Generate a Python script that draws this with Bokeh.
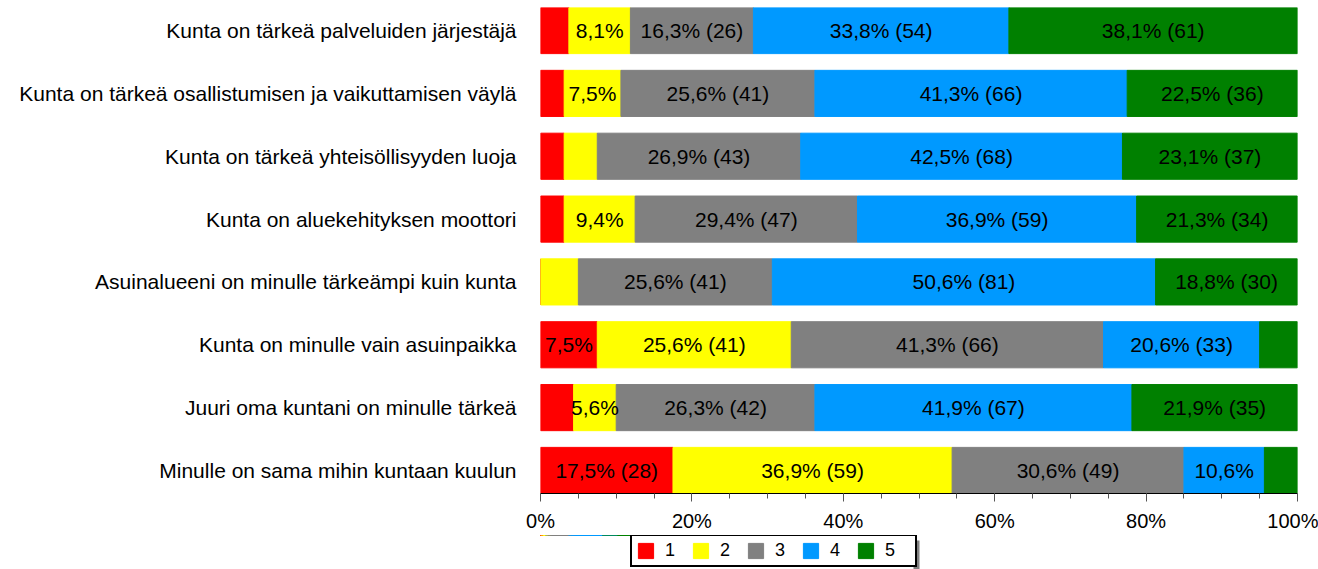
from bokeh.plotting import figure
from bokeh.models import ColumnDataSource, Range1d, FixedTicker, Legend, LegendItem, BoxAnnotation
from bokeh.layouts import column
from bokeh.embed import file_html
from bokeh.resources import INLINE
from bokeh.core.properties import value

categories = [
    "Kunta on tärkeä palveluiden järjestäjä",
    "Kunta on tärkeä osallistumisen ja vaikuttamisen väylä",
    "Kunta on tärkeä yhteisöllisyyden luoja",
    "Kunta on aluekehityksen moottori",
    "Asuinalueeni on minulle tärkeämpi kuin kunta",
    "Kunta on minulle vain asuinpaikka",
    "Juuri oma kuntani on minulle tärkeä",
    "Minulle on sama mihin kuntaan kuulun",
]
levels = ["1", "2", "3", "4", "5"]
n_resp = [160, 160, 160, 160, 160, 160, 160, 160]
c1 = [6, 5, 5, 5, 0, 12, 7, 28]
c2 = [13, 12, 7, 15, 8, 41, 9, 59]
c3 = [26, 41, 43, 47, 41, 66, 42, 49]
c4 = [54, 66, 68, 59, 81, 33, 67, 17]
c5 = [61, 36, 37, 34, 30, 8, 35, 7]
colors = ["#FF0000", "#FFFF00", "#808080", "#0099FF", "#008000"]
tick_values = [0, 20, 40, 60, 80, 100]
tick_labels = ["0%", "20%", "40%", "60%", "80%", "100%"]

FONT = "Liberation Sans"
counts = [c1, c2, c3, c4, c5]
ncat = len(categories)
ys = [ncat - 1 - i for i in range(ncat)]
stackers = ["p1", "p2", "p3", "p4", "p5"]


def r1(v):
    return int(v * 10 + 0.5) / 10.0


def fmt(v):
    return ("%.1f" % v).replace(".", ",")


data = {"y": ys}
for k, cs in enumerate(counts):
    data[stackers[k]] = [cs[i] / n_resp[i] * 100.0 for i in range(ncat)]
src = ColumnDataSource(data)

# segment labels
lx, ly, lt = [], [], []
for i in range(ncat):
    left = 0.0
    for k, cs in enumerate(counts):
        w = cs[i] / n_resp[i] * 100.0
        pr = r1(w)
        if pr >= 15:
            txt = "%s%% (%d)" % (fmt(pr), cs[i])
        elif pr > 5.2:
            txt = "%s%%" % fmt(pr)
        else:
            txt = None
        if txt:
            lx.append(left + w / 2)
            ly.append(ys[i])
            lt.append(txt)
        left += w
lsrc = ColumnDataSource(dict(x=lx, y=ly, t=lt))

BAR_H = 0.734
p = figure(
    frame_width=757, frame_height=486,
    x_range=Range1d(0, 100), y_range=Range1d(-BAR_H / 2, ncat - 1 + BAR_H / 2),
    output_backend="svg", toolbar_location=None,
    min_border_left=540, min_border_right=21, min_border_top=7, min_border_bottom=42,
)
p.outline_line_color = None
p.xgrid.visible = False
p.ygrid.visible = False

p.hbar_stack(stackers, y="y", height=BAR_H, color=colors, source=src)

p.text(x="x", y="y", text="t", source=lsrc, text_align="center",
       text_baseline="middle", text_font=value(FONT), text_font_size="21px",
       text_color="black")

xa = p.xaxis[0]
xa.ticker = FixedTicker(ticks=tick_values, minor_ticks=list(range(0, 101, 5)))
xa.major_label_overrides = {v: l for v, l in zip(tick_values, tick_labels)}
xa.major_label_text_font = FONT
xa.major_label_text_font_size = "20px"
xa.major_label_text_color = "black"
xa.major_label_standoff = 8
xa.axis_line_color = "black"
xa.major_tick_line_color = "#555555"
xa.minor_tick_line_color = "#555555"
xa.major_tick_in = 0
xa.major_tick_out = 8
xa.minor_tick_in = 0
xa.minor_tick_out = 5

ya = p.yaxis[0]
ya.ticker = FixedTicker(ticks=ys)
ya.major_label_overrides = {y: c for y, c in zip(ys, categories)}
ya.major_label_text_font = FONT
ya.major_label_text_font_size = "21px"
ya.major_label_text_color = "black"
ya.axis_line_color = None
ya.major_tick_line_color = None
ya.minor_tick_line_color = None
ya.major_label_standoff = 18

# legend strip below the chart; its keys are the same stacked series,
# drawn outside this strip's visible y range
lg = figure(
    frame_width=757, frame_height=34,
    x_range=Range1d(0, 757), y_range=Range1d(-100, -66),
    output_backend="svg", toolbar_location=None,
    x_axis_type=None, y_axis_type=None,
    min_border_left=540, min_border_right=21, min_border_top=0, min_border_bottom=0,
)
lg.outline_line_color = None
lg.xgrid.visible = False
lg.ygrid.visible = False
keys = lg.hbar_stack(stackers, y="y", height=BAR_H, color=colors, source=src)

# drop shadow of the legend box
lg.add_layout(BoxAnnotation(left=373, right=379, bottom=-100, top=-71,
                            fill_color="#808080", fill_alpha=1.0, line_color=None))

legend = Legend(
    items=[LegendItem(label=l, renderers=[r]) for l, r in zip(levels, keys)],
    location=(90, 2), orientation="horizontal",
    glyph_width=19, glyph_height=19,
    label_text_font=FONT, label_text_font_size="18px", label_text_color="black",
    label_standoff=10, label_width=26, label_height=19, spacing=0, padding=4,
    margin=0, border_line_color="black", border_line_width=2, border_line_alpha=1.0,
    background_fill_color="white", background_fill_alpha=1.0,
    inactive_fill_alpha=0.0,
)
lg.add_layout(legend, "center")

layout = column(p, lg, spacing=0)
open("out.html", "w").write(file_html(layout, INLINE))
